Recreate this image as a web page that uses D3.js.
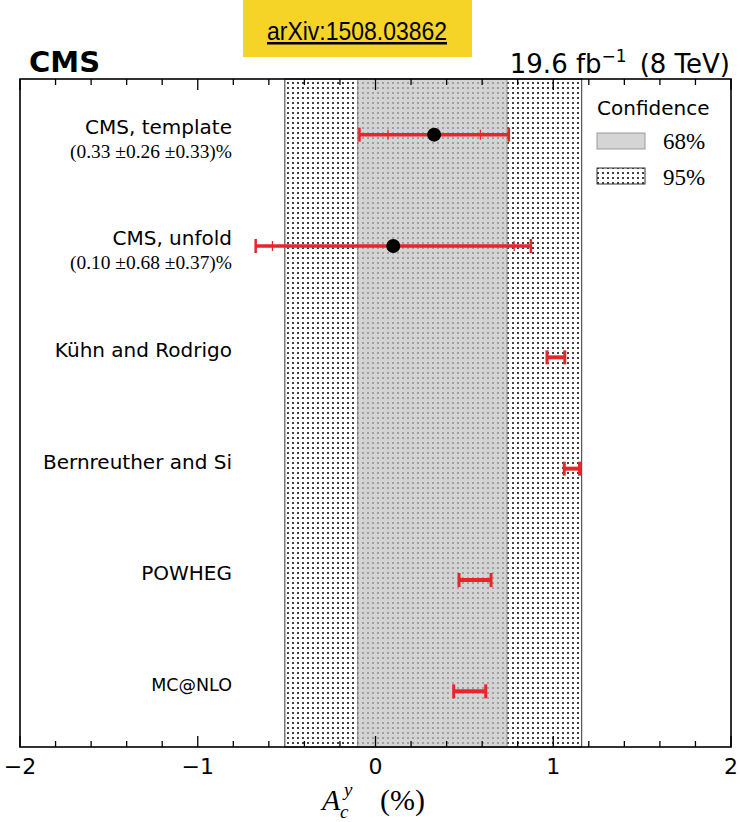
<!DOCTYPE html>
<html>
<head>
<meta charset="utf-8">
<script src="https://cdn.jsdelivr.net/npm/d3@7"></script>
<style>
  body { margin: 0; background: #fff; }
  #chart-container { width: 740px; height: 822px; }
</style>
</head>
<body>
<div id="chart-container"></div>
<script>
const width = 740;
const height = 822;
const margin = { top: 79, right: 9, bottom: 75, left: 20 };

// Data
const rowLabels = ["CMS, template", "CMS, unfold", "Kühn and Rodrigo", "Bernreuther and Si", "POWHEG", "MC@NLO"];
const measLabels = ["CMS, template", "CMS, unfold"];
const measValues = [0.33, 0.10];
const measStat = [0.26, 0.68];
const measSyst = [0.33, 0.37];
const measText = ["(0.33 ±0.26 ±0.33)%", "(0.10 ±0.68 ±0.37)%"];
const theoryLabels = ["Kühn and Rodrigo", "Bernreuther and Si", "POWHEG", "MC@NLO"];
const theoryValues = [1.015, 1.105, 0.56, 0.53];
const theoryErr = [0.05, 0.043, 0.09, 0.09];
const band68 = [-0.10, 0.74];
const band95 = [-0.51, 1.16];
const xTicks = [-2, -1, 0, 1, 2];

const svg = d3.select("#chart-container")
  .append("svg")
  .attr("width", width)
  .attr("height", height)
  .style("font-family", "'DejaVu Sans', sans-serif");

const x = d3.scaleLinear().domain([-2, 2]).range([margin.left, width - margin.right]);
const y = d3.scaleBand().domain(rowLabels).range([margin.top, height - margin.bottom]);
const yc = d => y(d) + y.bandwidth() / 2;

const plotTop = margin.top, plotBottom = height - margin.bottom;
const red = "#e8262a";

// dotted hatch pattern
const defs = svg.append("defs");
const pat = defs.append("pattern")
  .attr("id", "dots")
  .attr("patternUnits", "userSpaceOnUse")
  .attr("width", 5).attr("height", 5);
pat.append("rect").attr("width", 5).attr("height", 5).attr("fill", "#fff");
pat.append("rect").attr("x", 2).attr("y", 2).attr("width", 2).attr("height", 2)
  .attr("fill", "#111").attr("fill-opacity", 0.8).attr("shape-rendering", "crispEdges");

// 95% band
svg.append("rect")
  .attr("x", x(band95[0])).attr("y", plotTop)
  .attr("width", x(band95[1]) - x(band95[0])).attr("height", plotBottom - plotTop)
  .attr("fill", "url(#dots)")
  .attr("stroke", "#333").attr("stroke-width", 1);

// 68% band
svg.append("rect")
  .attr("x", x(band68[0])).attr("y", plotTop)
  .attr("width", x(band68[1]) - x(band68[0])).attr("height", plotBottom - plotTop)
  .attr("fill", "#c4c4c4").attr("fill-opacity", 0.72)
  .attr("stroke", "#888").attr("stroke-width", 1);

// axes frame and ticks
const minorTicks = d3.range(-2, 2.001, 0.2).map(v => +v.toFixed(1));
const tickG = svg.append("g").attr("stroke", "#000").attr("stroke-width", 1.3);
minorTicks.forEach(v => {
  const major = Math.abs(v - Math.round(v)) < 1e-6;
  const len = major ? 11 : 6;
  tickG.append("line").attr("x1", x(v)).attr("x2", x(v)).attr("y1", plotBottom).attr("y2", plotBottom - len);
  tickG.append("line").attr("x1", x(v)).attr("x2", x(v)).attr("y1", plotTop).attr("y2", plotTop + len);
});

svg.append("rect")
  .attr("x", x(-2)).attr("y", plotTop)
  .attr("width", x(2) - x(-2)).attr("height", plotBottom - plotTop)
  .attr("fill", "none").attr("stroke", "#000").attr("stroke-width", 1.6);

svg.append("g").selectAll("text")
  .data(xTicks).enter().append("text")
  .attr("x", d => x(d))
  .attr("y", 774)
  .attr("text-anchor", "middle")
  .style("font-size", "22px")
  .text(d => d < 0 ? "\u2212" + Math.abs(d) : d);

// x axis title: A_c^y (%)
const serif = "'Liberation Serif', serif";
const xt = svg.append("g").style("font-family", serif);
xt.append("text").attr("x", 322).attr("y", 810)
  .style("font-size", "30px").style("font-style", "italic").text("A");
xt.append("text").attr("x", 340).attr("y", 818)
  .style("font-size", "19px").style("font-style", "italic").text("c");
xt.append("text").attr("x", 344).attr("y", 796)
  .style("font-size", "19px").style("font-style", "italic").text("y");
xt.append("text").attr("x", 380).attr("y", 810)
  .style("font-size", "30px").text("(%)");

// row labels
const labelX = 232;
svg.append("g").selectAll("text")
  .data(rowLabels).enter().append("text")
  .attr("x", labelX)
  .attr("y", d => yc(d) - (measLabels.includes(d) ? 1 : 0))
  .attr("text-anchor", "end")
  .style("font-size", d => d === "MC@NLO" ? "17.5px" : "20px")
  .text(d => d);

svg.append("g").selectAll("text")
  .data(measLabels).enter().append("text")
  .attr("x", labelX)
  .attr("y", (d, i) => yc(d) + 23)
  .attr("text-anchor", "end")
  .attr("textLength", 162).attr("lengthAdjust", "spacingAndGlyphs")
  .style("font-family", serif)
  .style("font-size", "18px")
  .text((d, i) => measText[i]);

// theory predictions
theoryLabels.forEach((lab, i) => {
  const g = svg.append("g").attr("stroke", red).attr("stroke-width", 4);
  const cy = yc(lab);
  const lo = x(theoryValues[i] - theoryErr[i]), hi = x(theoryValues[i] + theoryErr[i]);
  g.append("line").attr("x1", lo).attr("x2", hi).attr("y1", cy).attr("y2", cy);
  g.append("line").attr("x1", lo).attr("x2", lo).attr("y1", cy - 7).attr("y2", cy + 7).attr("stroke-width", 3);
  g.append("line").attr("x1", hi).attr("x2", hi).attr("y1", cy - 7).attr("y2", cy + 7).attr("stroke-width", 3);
});

// measurements: outer caps = total error, inner ticks = stat only
measLabels.forEach((lab, i) => {
  const cy = yc(lab);
  const tot = Math.sqrt(measStat[i] ** 2 + measSyst[i] ** 2);
  const g = svg.append("g").attr("stroke", red);
  g.append("line").attr("x1", x(measValues[i] - tot)).attr("x2", x(measValues[i] + tot))
    .attr("y1", cy).attr("y2", cy).attr("stroke-width", 3.5);
  [measValues[i] - tot, measValues[i] + tot].forEach(v => {
    g.append("line").attr("x1", x(v)).attr("x2", x(v)).attr("y1", cy - 7).attr("y2", cy + 7).attr("stroke-width", 2.5);
  });
  [measValues[i] - measStat[i], measValues[i] + measStat[i]].forEach(v => {
    g.append("line").attr("x1", x(v)).attr("x2", x(v)).attr("y1", cy - 5).attr("y2", cy + 5).attr("stroke-width", 1.2);
  });
  svg.append("circle").attr("cx", x(measValues[i])).attr("cy", cy).attr("r", 7).attr("fill", "#000");
});

// legend
const lg = svg.append("g");
lg.append("text").attr("x", 597).attr("y", 115).style("font-size", "20px").text("Confidence");
lg.append("rect").attr("x", 597).attr("y", 133).attr("width", 48).attr("height", 16)
  .attr("fill", "#d5d5d5").attr("stroke", "#999").attr("stroke-width", 1);
lg.append("rect").attr("x", 597).attr("y", 168).attr("width", 48).attr("height", 16)
  .attr("fill", "url(#dots)").attr("stroke", "#333").attr("stroke-width", 1);
lg.append("text").attr("x", 663).attr("y", 149)
  .style("font-family", serif).style("font-size", "23px").text("68%");
lg.append("text").attr("x", 663).attr("y", 185)
  .style("font-family", serif).style("font-size", "23px").text("95%");

// header
svg.append("text").attr("x", 29).attr("y", 72)
  .style("font-size", "29px").style("font-weight", "bold").text("CMS");

const lumi = svg.append("text").attr("x", 730).attr("y", 73)
  .attr("text-anchor", "end").style("font-size", "26px");
lumi.append("tspan").text("19.6 fb");
lumi.append("tspan").attr("dy", -11).style("font-size", "17px").text("\u22121");
lumi.append("tspan").attr("dy", 11).text("\u2002(8 TeV)");

// arXiv badge
svg.append("rect").attr("x", 243).attr("y", 0).attr("width", 229).attr("height", 57).attr("fill", "#f5d327");
svg.append("text").attr("x", 267).attr("y", 40)
  .attr("textLength", 180).attr("lengthAdjust", "spacingAndGlyphs")
  .style("font-family", "'Liberation Sans Narrow', 'Liberation Sans', sans-serif")
  .style("font-size", "25px").style("text-decoration", "underline")
  .text("arXiv:1508.03862");
</script>
</body>
</html>
